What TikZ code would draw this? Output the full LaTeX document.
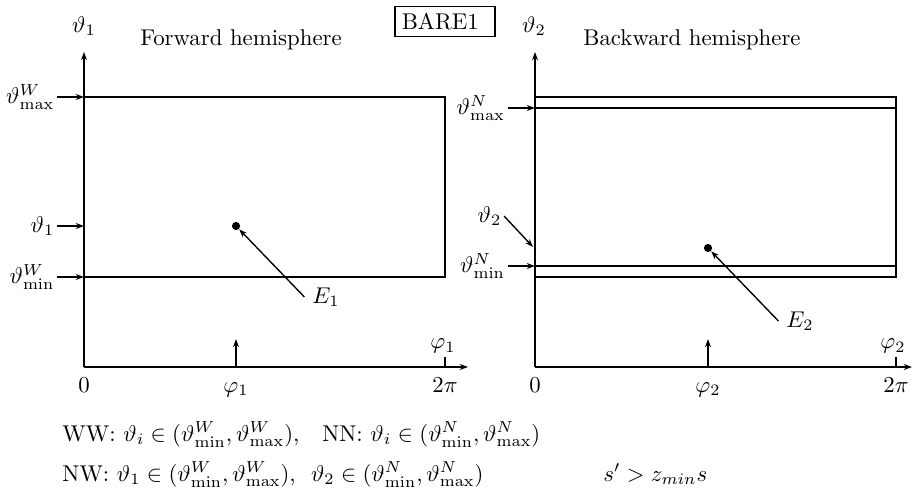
\documentclass[tikz,border=0pt]{standalone}
\usepackage{amsmath,amssymb}
\usetikzlibrary{positioning,arrows.meta}

\begin{document}
\begin{tikzpicture}[x=0.4386pt,y=-0.4386pt,
  boxline/.style={line width=1pt},
  axis/.style={line width=1pt,-{Stealth[length=3.6pt,width=2.6pt]}},
  pointer/.style={line width=0.6pt,-{Stealth[length=3.6pt,width=2.6pt]}},
  dot/.style={circle,fill,inner sep=0pt,minimum size=3.6pt},
  ticklabel/.style={text height=1.5ex,text depth=.25ex},
  sidelabel/.style={inner sep=1pt}]
\useasboundingbox (0,0) rectangle (913,493);

% forward hemisphere
\coordinate (o1) at (84,367);
\coordinate (top1) at (84,52);
\coordinate (end1) at (468,367);
\draw[axis] (o1) -- (top1);
\draw[axis] (o1) -- (end1);
\draw[boxline] (84,97) rectangle (445,277);
\node (axy1) at (84,26) {$\vartheta_1$};
\node (fw) at (241,40) {Forward hemisphere};
\node[draw,line width=0.6pt,inner sep=3pt,text width=37.9pt,align=left] (bare) at (445,21.5) {BARE1};

\coordinate (a1max) at (84,97);
\coordinate (a1) at (84,226);
\coordinate (a1min) at (84,277);
\node[sidelabel,left=11.8pt of a1max] (t1max) {$\vartheta^W_{\max}$};
\node[sidelabel,left=11.8pt of a1] (t1) {$\vartheta_1$};
\node[sidelabel,left=11.8pt of a1min] (t1min) {$\vartheta^W_{\min}$};
\draw[axis] (t1max) -- (a1max);
\draw[axis] (t1) -- (a1);
\draw[axis] (t1min) -- (a1min);

\node[dot] (p1) at (236,226) {};
\node (e1) at (326,297) {$E_1$};
\draw[pointer] (e1.west) -- (p1);

\coordinate (f1) at (236,367);
\coordinate (f1top) at (236,339);
\coordinate (tp1) at (445,367);
\coordinate (tp1top) at (445,357);
\draw[axis] (f1) -- (f1top);
\draw[boxline] (tp1) -- (tp1top);
\node (phi1) at (443,346) {$\varphi_1$};
\node[ticklabel,below=1pt of o1] (zero1) {$0$};
\node[ticklabel,below=1pt of f1] (phi1b) {$\varphi_1$};
\node[ticklabel,below=1pt of tp1] (twopi1) {$2\pi$};

% backward hemisphere
\coordinate (o2) at (535,367);
\coordinate (top2) at (535,52);
\coordinate (end2) at (912,367);
\draw[axis] (o2) -- (top2);
\draw[axis] (o2) -- (end2);
\draw[boxline] (535,97) rectangle (896,277);
\draw[boxline] (535,108) -- (896,108);
\draw[boxline] (535,266) -- (896,266);
\node (axy2) at (534,26) {$\vartheta_2$};
\node (bw) at (692,40) {Backward hemisphere};

\coordinate (a2max) at (535,108);
\coordinate (a2min) at (535,266);
\coordinate (a2) at (533,247);
\node[sidelabel,left=12pt of a2max] (t2max) {$\vartheta^N_{\max}$};
\node[sidelabel,left=12pt of a2min] (t2min) {$\vartheta^N_{\min}$};
\node[sidelabel,anchor=east] (t2) at (504,216) {$\vartheta_2$};
\draw[axis] (t2max) -- (a2max);
\draw[axis] (t2min) -- (a2min);
\draw[pointer] (t2.east) -- (a2);

\node[dot] (p2) at (708,248) {};
\node (e2) at (800,321) {$E_2$};
\draw[pointer] (e2.west) -- (p2);

\coordinate (f2) at (708,367);
\coordinate (f2top) at (708,339);
\coordinate (tp2) at (896,367);
\coordinate (tp2top) at (896,357);
\draw[axis] (f2) -- (f2top);
\draw[boxline] (tp2) -- (tp2top);
\node (phi2) at (893,346) {$\varphi_2$};
\node[ticklabel,below=1pt of o2] (zero2) {$0$};
\node[ticklabel,below=1pt of f2] (phi2b) {$\varphi_2$};
\node[ticklabel,below=1pt of tp2] (twopi2) {$2\pi$};

% cut conditions
\node[anchor=base west,inner sep=0pt] (ww) at (62,441) {WW: $\vartheta_i\in(\vartheta^W_{\min},\vartheta^W_{\max})$,\quad NN: $\vartheta_i\in(\vartheta^N_{\min},\vartheta^N_{\max})$};
\node[anchor=base west,inner sep=0pt] (nw) at (62,481) {NW: $\vartheta_1\in(\vartheta^W_{\min},\vartheta^W_{\max})$, \ $\vartheta_2\in(\vartheta^N_{\min},\vartheta^N_{\max})$};
\node[anchor=base west,inner sep=0pt] (cut) at (603,481) {$s'>z_{min}s$};
\end{tikzpicture}
\end{document}
